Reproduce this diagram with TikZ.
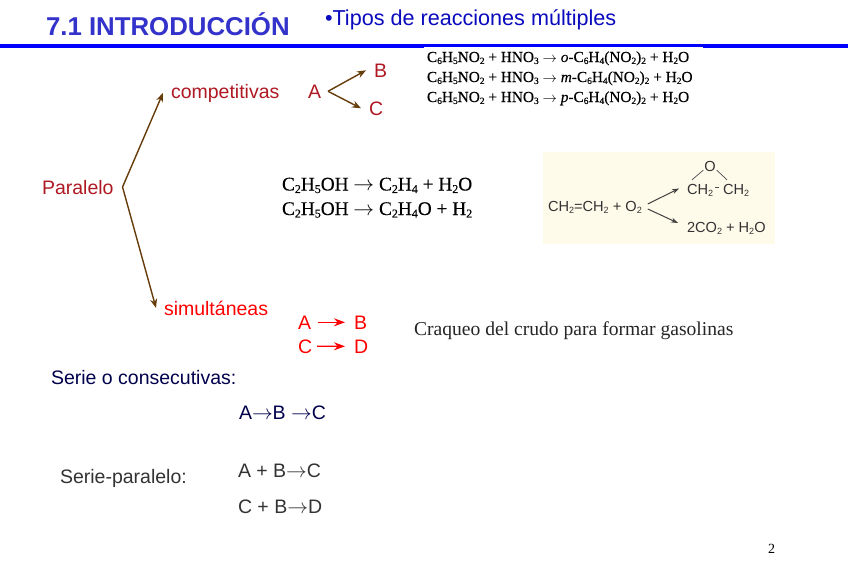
\documentclass[tikz,border=0pt]{standalone}
\usepackage{fontspec}
\setmainfont{Liberation Sans}
\newfontfamily\serifchem{Liberation Serif}
\newfontfamily\serifbold[FakeBold=0.35]{Liberation Serif}
\usetikzlibrary{arrows.meta}
\definecolor{titleblue}{RGB}{51,51,204}
\definecolor{tiposblue}{RGB}{10,10,190}
\definecolor{ruleblue}{RGB}{0,0,255}
\definecolor{brownarr}{RGB}{102,60,10}
\definecolor{darkred}{RGB}{175,25,35}
\definecolor{panel}{RGB}{255,251,235}
\newcommand{\dn}[1]{\raisebox{-0.28ex}{\scalebox{.62}{#1}}}
\newcommand{\arw}{\(\rightarrow\)}
\tikzset{
 txt/.style={anchor=base west,inner sep=0pt,outer sep=0pt},
 sz/.style={font=\fontsize{#1}{#1}\selectfont},
 lab/.style={txt,sz=19.5},
 redlab/.style={lab,text=darkred},
 hotlab/.style={lab,text=red},
 navylab/.style={lab,text=black!70!blue},
 greylab/.style={lab,text=black!80},
 chemA/.style={txt,text=black,font=\fontsize{15.3}{15.3}\selectfont\serifbold},
 chemB/.style={txt,text=black,font=\fontsize{19.3}{19.3}\selectfont\serifbold},
 panellab/.style={txt,text=black!80,sz=14.6},
 brownline/.style={draw=brownarr,line width=1.4pt,-{Stealth[length=9pt,width=7pt]}},
 redline/.style={draw=red,line width=1.3pt,-{Stealth[length=11pt,width=8pt]}},
 panelline/.style={draw=black!75,line width=1pt,-{Stealth[length=7pt,width=5pt]}},
 bond/.style={draw=black!70,line width=.7pt},
}
\begin{document}
\begin{tikzpicture}[x=1pt,y=-1pt]
\useasboundingbox (0,0) rectangle (848,587);
\fill[white] (0,0) rectangle (848,587);
% header rule
\fill[ruleblue] (0,43.5) rectangle (848,48);
\fill[white] (424,46.7) rectangle (703,49);
% title
\node[txt,text=titleblue,sz=25.8] (title) at (46,35.5) {\bfseries 7.1 INTRODUCCIÓN};
\node[txt,text=tiposblue,sz=21.6] (tipos) at (325,25) {•Tipos de reacciones múltiples};
% parallel branch
\node[redlab] (par) at (42,194) {Paralelo};
\node[redlab] (comp) at (171,98) {competitivas};
\node[hotlab] (sim) at (164,315) {simultáneas};
\draw[brownline,{Stealth[length=9pt,width=7pt]}-{Stealth[length=9pt,width=7pt]}] ([xshift=-8pt]comp.west) -- ([xshift=9pt]par.east) -- ([xshift=-8pt]sim.west);
% competitive
\node[redlab] (a1) at (308,98) {A};
\node[redlab] (b1) at (374,77) {B};
\node[redlab] (c1) at (369,115) {C};
\draw[brownline] ([xshift=7pt]a1.east) -- ([xshift=-8pt]b1.west);
\draw[brownline] ([xshift=7pt]a1.east) -- ([xshift=-8pt]c1.west);
% nitration
\node[chemA] (n1) at (427,62) {C\dn{6}H\dn{5}NO\dn{2} + HNO\dn{3} \arw{} \textit{o}-C\dn{6}H\dn{4}(NO\dn{2})\dn{2} + H\dn{2}O};
\node[chemA] (n2) at (427,82) {C\dn{6}H\dn{5}NO\dn{2} + HNO\dn{3} \arw{} \textit{m}-C\dn{6}H\dn{4}(NO\dn{2})\dn{2} + H\dn{2}O};
\node[chemA] (n3) at (427,102) {C\dn{6}H\dn{5}NO\dn{2} + HNO\dn{3} \arw{} \textit{p}-C\dn{6}H\dn{4}(NO\dn{2})\dn{2} + H\dn{2}O};
% ethanol
\node[chemB] (e1) at (282,190.5) {C\dn{2}H\dn{5}OH \arw{} C\dn{2}H\dn{4} + H\dn{2}O};
\node[chemB] (e2) at (282,215) {C\dn{2}H\dn{5}OH \arw{} C\dn{2}H\dn{4}O + H\dn{2}};
% panel
\fill[panel] (543,152) rectangle (775,244);
\node[panellab,anchor=base] (ox) at (710,171) {O};
\node[panellab] (ch1) at (687,194) {CH\dn{2}};
\node[panellab] (ch2) at (723,194) {CH\dn{2}};
\node[panellab] (co) at (687,232) {2CO\dn{2} + H\dn{2}O};
\node[panellab] (eth) at (548,211) {CH\dn{2}=CH\dn{2} + O\dn{2}};
\draw[bond] ([xshift=-1pt,yshift=1pt]ox.south west) -- ([xshift=5pt,yshift=4pt]ch1.north west);
\draw[bond] ([xshift=1pt,yshift=1pt]ox.south east) -- ([xshift=4pt,yshift=4pt]ch2.north west);
\draw[bond] ([xshift=2pt,yshift=2.5pt]ch1.east) -- ([xshift=-4pt,yshift=2.5pt]ch2.west);
\draw[panelline] ([xshift=6pt,yshift=3pt]eth.east) -- ([xshift=-8pt,yshift=1.5pt]ch1.west);
\draw[panelline] ([xshift=6pt,yshift=-2pt]eth.east) -- ([xshift=-9pt,yshift=5pt]co.west);
% simultaneous
\node[hotlab] (a2) at (298,329) {A};
\node[hotlab] (b2) at (354,329) {B};
\node[hotlab] (c2) at (298,353) {C};
\node[hotlab] (d2) at (354,353) {D};
\draw[redline] ([xshift=6.5pt]a2.east) -- ([xshift=-9pt]b2.west);
\draw[redline] ([xshift=5pt]c2.east) -- ([xshift=-9pt]d2.west);
\node[txt,font=\fontsize{19.6}{19.6}\selectfont\serifchem,text=black!85] (craq) at (414,335) {Craqueo del crudo para formar gasolinas};
% series
\node[navylab] (serie) at (51,384) {Serie o consecutivas:};
\node[navylab] (abc) at (239,419) {A\arw{}B \arw{}C};
\node[greylab] (sp) at (60,483) {Serie-paralelo:};
\node[greylab] (r1) at (238,477) {A + B\arw{}C};
\node[greylab] (r2) at (238,513) {C + B\arw{}D};
\node[txt,font=\fontsize{14}{14}\selectfont\serifchem] (pg) at (768,553) {2};
\end{tikzpicture}
\end{document}
